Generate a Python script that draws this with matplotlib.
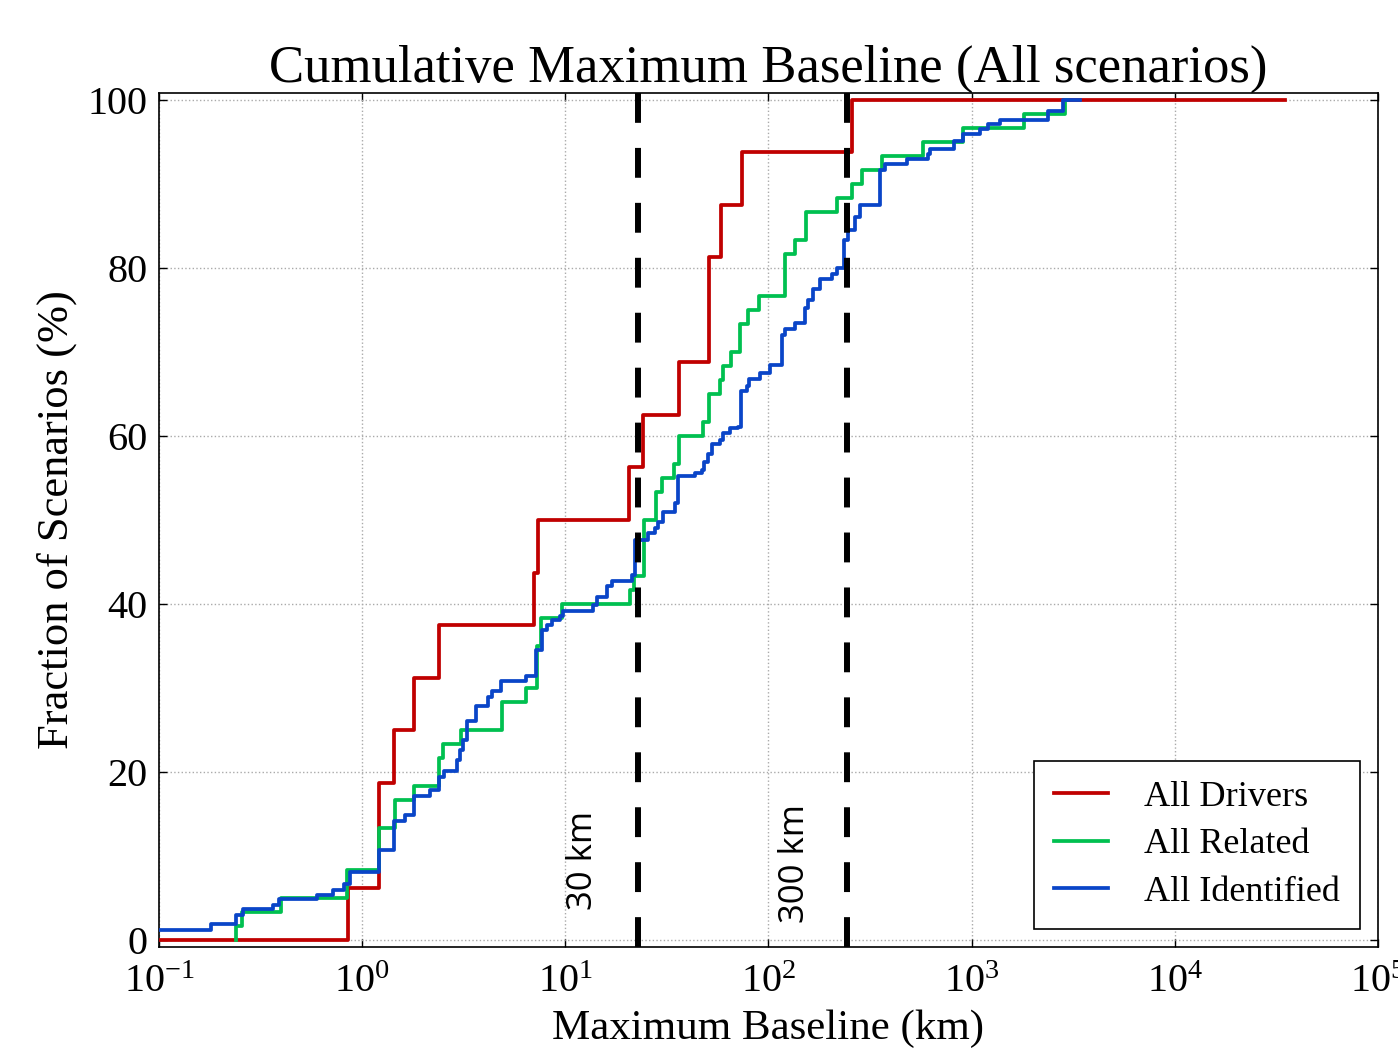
import matplotlib
matplotlib.use("Agg")
import matplotlib.pyplot as plt
import numpy as np

plt.rcParams['font.family'] = ['Liberation Serif', 'DejaVu Serif']
plt.rcParams['mathtext.fontset'] = 'stix'

# ---- data (km, % of scenarios), step curves ----
drivers_x = [0.1, 0.855, 1.21, 1.434, 1.80, 2.40, 7.01, 7.36, 20.6, 24.2, 36.2,
             50.9, 58.1, 73.7, 256.6, 34750]
drivers_y = [0, 6.25, 18.75, 25, 31.25, 37.5, 43.75, 50, 56.25, 62.5, 68.75,
             81.25, 87.5, 93.75, 100, 100]

related_x = [0.239, 0.239, 0.255, 0.398, 0.839, 1.21, 1.45, 1.80, 2.40, 2.49, 3.05,
             4.86, 6.40, 7.25, 7.59, 9.62, 20.8, 21.8, 24.4, 28.1, 30.0, 34.4, 36.4,
             47.4, 51.1, 57.7, 59.8, 65.1, 72.3, 79.5, 89.7, 120.4, 134.9, 152.3,
             216.3, 256.5, 287.2, 360.3, 577, 908, 1807, 2875, 2950]
related_y = [0, 1.67, 3.33, 5.0, 8.33, 13.33, 16.67, 18.33, 21.67, 23.33, 25,
             28.33, 30, 35, 38.33, 40, 41.67, 43.33, 50, 53.33, 55, 56.67, 60,
             61.67, 65, 66.67, 68.33, 70, 73.33, 75, 76.67, 81.67, 83.33, 86.67,
             88.33, 90, 91.67, 93.33, 95, 96.67, 98.33, 100, 100]

identified_x = [0.1, 0.18, 0.24, 0.259, 0.365, 0.39, 0.601, 0.721, 0.814, 0.871,
                1.21, 1.434, 1.624, 1.809, 2.168, 2.40, 2.527, 2.917, 3.029, 3.124,
                3.268, 3.643, 4.15, 4.377, 4.82, 6.40, 7.166, 7.646, 8.09, 8.56,
                9.40, 9.76, 13.72, 14.26, 15.97, 16.9, 21.2, 22.0, 25.6, 27.6,
                28.66, 30.3, 34.6, 35.9, 43.4, 46.9, 48.1, 50.5, 52.5, 57.7, 59.8,
                64.6, 70.9, 72.9, 78.0, 80.4, 90.7, 101.6, 116.4, 120.4, 134.9,
                151.1, 156.8, 166.0, 179.0, 204.4, 216.3, 235.0, 246.7, 266.3,
                281.8, 353.3, 374, 478, 611, 623, 817, 908, 1097, 1205, 1376,
                2379, 2820, 3408]
identified_y = [1.27, 1.9, 2.98, 3.69, 4.17, 4.88, 5.36, 5.95, 6.75, 8.1,
                10.7, 14.2, 14.9, 17.2, 17.9, 19.4, 20.2, 21.4, 22.6, 23.8,
                26.1, 27.9, 29.0, 29.7, 30.9, 31.4, 34.5, 36.9, 37.5, 38.1,
                38.6, 39.2, 39.9, 40.9, 42.1, 42.7, 43.5, 47.6, 48.4, 49.0,
                49.8, 51.0, 52.0, 55.2, 55.6, 55.95, 56.9, 57.9, 59.1, 59.5, 60.3,
                60.9, 61.1, 65.3, 65.9, 66.75, 67.5, 68.5, 72.0, 72.7, 73.4,
                75.2, 76.2, 77.5, 78.65, 79.3, 80.0, 83.3, 84.5, 86.1,
                87.5, 91.7, 92.3, 92.9, 93.5, 94.1, 95.1, 95.9, 96.5, 97.1, 97.6,
                98.65, 100, 100]

threshold_lines = [22.8, 243]
threshold_labels = ["30 km", "300 km"]
label_x = [12.2, 135]
label_y = [3.6, 2.1]

series_names = ["All Drivers", "All Related", "All Identified"]
series_colors = ["#c00000", "#00c050", "#0a45c8"]

fig = plt.figure(figsize=(13.98, 10.56), dpi=100)
ax = fig.add_axes([0.1137, 0.1032, 0.872, 0.8087])

for xs, ys, name, col in zip([drivers_x, related_x, identified_x],
                             [drivers_y, related_y, identified_y],
                             series_names, series_colors):
    ax.plot(xs, ys, drawstyle='steps-post', color=col, lw=2.7, label=name, zorder=3)

for xv in threshold_lines:
    ax.axvline(xv, color='black', lw=4.3, dashes=(5, 4.2), zorder=4)

for t, xv, yv in zip(threshold_labels, label_x, label_y):
    ax.text(xv, yv, t, rotation=90, ha='center', va='bottom', fontsize=25,
            family=['Open Sans', 'DejaVu Sans'], zorder=5)

ax.set_xscale('log')
ax.set_xlim(0.1, 1e5)
ax.set_ylim(-0.8, 100.8)
ax.set_yticks([0, 20, 40, 60, 80, 100])
ax.set_xticks([1e-1, 1e0, 1e1, 1e2, 1e3, 1e4, 1e5])
ax.xaxis.set_minor_locator(matplotlib.ticker.NullLocator())
ax.grid(True, color='#aaaaaa', linestyle=':', lw=1.0)
ax.tick_params(which='major', direction='in', length=6, width=1, top=True,
               right=True, labelsize=29)
ax.tick_params(axis='x', pad=12)
ax.tick_params(axis='y', pad=8)
for s in ax.spines.values():
    s.set_linewidth(1.2)

ax.set_title("Cumulative Maximum Baseline (All scenarios)", fontsize=38, pad=8)
ax.set_xlabel("Maximum Baseline (km)", fontsize=31, labelpad=6)
ax.set_ylabel("Fraction of Scenarios (%)", fontsize=32, labelpad=8)

leg = ax.legend(loc='lower right', fontsize=26, fancybox=False, framealpha=1,
                edgecolor='black', handlelength=1.5, handletextpad=1.0,
                borderpad=0.55, labelspacing=0.4, borderaxespad=0.5)
leg.get_frame().set_linewidth(1.2)

fig.savefig("out.png", dpi=100)
